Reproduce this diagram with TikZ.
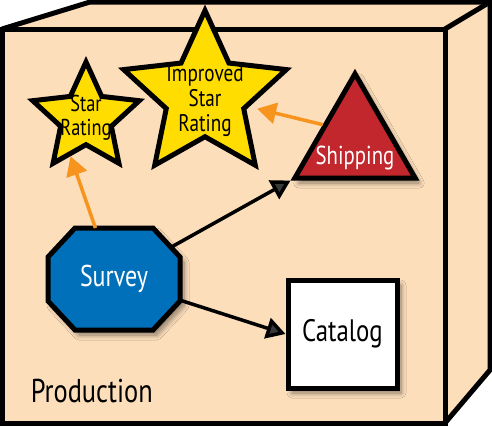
\documentclass[tikz,border=0pt]{standalone}
\usepackage{fontspec}
\setmainfont{PT Sans}[FakeStretch=0.8]
\usepackage{tikz}
\usetikzlibrary{arrows.meta,shapes.geometric,shadows.blur}
\definecolor{peach}{RGB}{252,222,187}
\definecolor{staryellow}{RGB}{255,221,0}
\definecolor{surveyblue}{RGB}{0,112,186}
\definecolor{shipred}{RGB}{193,39,45}
\definecolor{hintorange}{RGB}{247,148,30}

\begin{document}
\begin{tikzpicture}[x=1pt,y=-1pt,line width=5pt,line join=miter]
\tikzset{starnode/.style = {star, star points=5, star point ratio=2.1, draw, fill=staryellow, inner sep=0pt}}
\tikzset{startext/.style = {align=center, font=\fontsize{23}{24}\selectfont}}
\tikzset{shadowed/.style = {blur shadow={shadow blur steps=8, shadow xshift=4pt, shadow yshift=-5pt, shadow opacity=45, shadow blur radius=5pt}}}
\tikzset{edge/.style = {line width=3.5pt, -{Triangle[length=19pt,width=21pt]}}}
\tikzset{hint/.style = {edge, draw=hintorange}}
\useasboundingbox (0,0) rectangle (492,426);
% box
\fill[peach] (2,29) -- (90,2) -- (490,2) -- (490,370) -- (445,423) -- (2,423) -- cycle;
\draw (2,29) -- (90,2) -- (490,2) -- (490,370) -- (445,423);
\draw (445,29) -- (490,2);
\draw (2,29) rectangle (445,423);
\node[anchor=base west, font=\fontsize{33}{36}\selectfont] (production) at (25,402) {Production};

% main
\node[starnode, minimum size=112pt, label={[startext]center:Star\\Rating}] (rating) at (86,118) {};
\node[starnode, minimum size=171pt, label={[startext, font=\fontsize{24}{25}\selectfont, yshift=-5pt]center:Improved\\Star\\Rating}] (improved) at (205,96) {};
\node[regular polygon, regular polygon sides=3, minimum size=139pt, inner sep=0pt, draw, fill=shipred, shadowed,
  label={[white, font=\fontsize{26}{28}\selectfont, yshift=-15pt]center:Shipping}] (shipping) at (355,143.3) {};
\node[minimum width=132pt, minimum height=102pt, outer sep=0pt] (survey) at (114,279) {};
\draw[fill=surveyblue, shadowed] ([xshift=27pt]survey.north west) -- ([xshift=-27pt]survey.north east)
  -- ([yshift=-29pt]survey.north east) -- ([yshift=29pt]survey.south east)
  -- ([xshift=-27pt]survey.south east) -- ([xshift=27pt]survey.south west)
  -- ([yshift=29pt]survey.south west) -- ([yshift=-29pt]survey.north west) -- cycle;
\node[text=white, font=\fontsize{30}{32}\selectfont] at (survey) {Survey};
\node[draw, fill=white, minimum width=109pt, minimum height=108pt, shadowed, font=\fontsize{31}{33}\selectfont] (catalog) at (342.5,334) {Catalog};

%edges
\draw[hint] (survey.110) to (rating.248);
\draw[hint, shorten >=8pt] (shipping.side 1) to (improved);
\draw[edge, shorten <=-10pt] (survey) to (shipping.corner 2);
\draw[edge] (survey) to (catalog.west);

\end{tikzpicture}
\end{document}
